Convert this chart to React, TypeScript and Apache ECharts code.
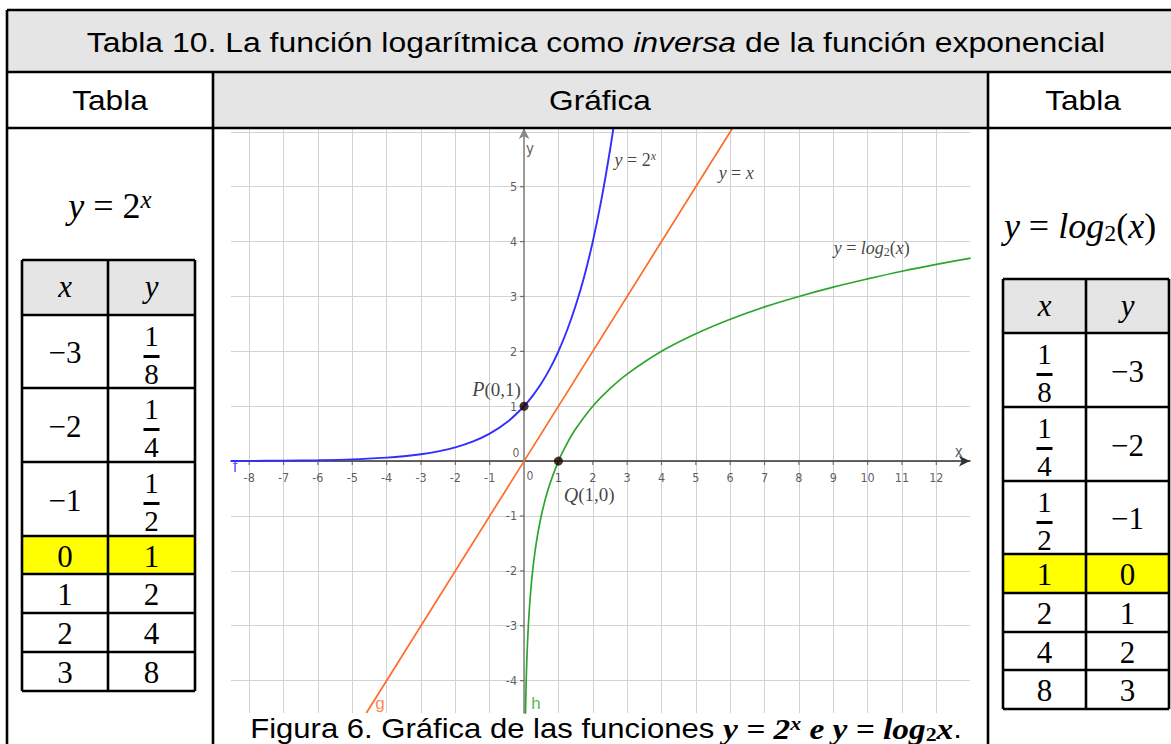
import React, { useEffect, useRef } from "react";
import * as echarts from "echarts";

// ---------------- data ----------------
const X_GRID = [-8, -7, -6, -5, -4, -3, -2, -1, 0, 1, 2, 3, 4, 5, 6, 7, 8, 9, 10, 11, 12];
const X_TICK_LABELS = [-8, -7, -6, -5, -4, -3, -2, -1, 1, 2, 3, 4, 5, 6, 7, 8, 9, 10, 11, 12];
const Y_GRID = [-4, -3, -2, -1, 0, 1, 2, 3, 4, 5, 6];
const Y_TICK_LABELS = [-4, -3, -2, -1, 1, 2, 3, 4, 5];
const X_MIN = -8.53;
const X_MAX = 12.98;
const Y_MIN = -4.59;
const Y_MAX = 6.07;

// y = 2^x (f)
const EXP_CURVE = [
  [-8.53, 0.003], [-8, 0.004], [-7, 0.008], [-6, 0.016], [-5, 0.031], [-4, 0.063],
  [-3.5, 0.088], [-3, 0.125], [-2.5, 0.177], [-2, 0.25], [-1.5, 0.354], [-1, 0.5],
  [-0.5, 0.707], [0, 1], [0.25, 1.19], [0.5, 1.414], [0.75, 1.68], [1, 2], [1.25, 2.38],
  [1.5, 2.83], [1.75, 3.36], [2, 4], [2.25, 4.76], [2.5, 5.66], [2.65, 6.28],
];
// y = x (g)
const IDENTITY_LINE = [[-4.59, -4.59], [6.07, 6.07]];
// y = log2(x) (h)
const LOG_CURVE = [
  [0.04, -4.64], [0.0625, -4], [0.088, -3.5], [0.125, -3], [0.177, -2.5], [0.25, -2],
  [0.354, -1.5], [0.5, -1], [0.707, -0.5], [1, 0], [1.25, 0.32], [1.5, 0.585], [2, 1],
  [2.5, 1.32], [3, 1.585], [4, 2], [5, 2.32], [6, 2.585], [7, 2.81], [8, 3], [9, 3.17],
  [10, 3.32], [11, 3.46], [12, 3.585], [13, 3.7],
];
const KEY_POINTS = [[0, 1], [1, 0]];

const TITLE_A = "Tabla 10. La función logarítmica como ";
const TITLE_B = "inversa";
const TITLE_C = " de la función exponencial";
const HEAD_LEFT = "Tabla";
const HEAD_MID = "Gráfica";
const HEAD_RIGHT = "Tabla";
const CAPTION = "Figura 6. Gráfica de las funciones ";

const EXP_TABLE_X = ["−3", "−2", "−1", "0", "1", "2", "3"];
const EXP_TABLE_Y = ["1/8", "1/4", "1/2", "1", "2", "4", "8"];
const LOG_TABLE_X = ["1/8", "1/4", "1/2", "1", "2", "4", "8"];
const LOG_TABLE_Y = ["−3", "−2", "−1", "0", "1", "2", "3"];
const HIGHLIGHT_ROW = 3;

// ---------------- styles ----------------
const SANS = "'Liberation Sans', Arial, sans-serif";
const SERIF = "'Liberation Serif', 'DejaVu Serif', serif";
const NARROW = "'Liberation Sans Narrow', 'DejaVu Sans Condensed', 'Liberation Sans', sans-serif";
const GRAY = "#e5e5e5";
const YELLOW = "#ffff00";
const BLUE = "#2f2fff";
const ORANGE = "#ff6a28";
const GREEN = "#2ca52c";
const BORDER = 2.6;
const CELL_FONT = 31;
const FRAC_FONT = 29;

function hLine(x1: number, x2: number, y: number, w = BORDER) {
  return { type: "line", z: 100, shape: { x1, y1: y, x2, y2: y }, style: { stroke: "#000", lineWidth: w } };
}
function vLine(x: number, y1: number, y2: number, w = BORDER) {
  return { type: "line", z: 100, shape: { x1: x, y1, x2: x, y2 }, style: { stroke: "#000", lineWidth: w } };
}
function txt(x: number, y: number, text: string, size: number, extra: any = {}) {
  return {
    type: "text",
    z: 101,
    x,
    y,
    scaleX: extra.scaleX || 1,
    style: {
      text,
      fontSize: size,
      fontFamily: extra.fontFamily || SERIF,
      fontStyle: extra.fontStyle || "normal",
      fontWeight: extra.fontWeight || "normal",
      fill: "#000",
      align: "center",
      verticalAlign: "middle",
      rich: extra.rich,
    },
  };
}

function cellValue(cx: number, top: number, bottom: number, v: string) {
  const out: any[] = [];
  if (v.indexOf("/") >= 0) {
    const [num, den] = v.split("/");
    out.push(txt(cx, top + 21, num, FRAC_FONT));
    out.push({ type: "rect", z: 101, shape: { x: cx - 8, y: top + 40, width: 16, height: 3 }, style: { fill: "#000" } });
    out.push(txt(cx, top + 59, den, FRAC_FONT));
  } else {
    out.push(txt(cx, (top + bottom) / 2 + 1, v, CELL_FONT));
  }
  return out;
}

function buildTable(left: number, mid: number, right: number, rows: number[], xs: string[], ys: string[]) {
  const els: any[] = [];
  els.push({ type: "rect", z: 50, shape: { x: left, y: rows[0], width: right - left, height: rows[1] - rows[0] }, style: { fill: GRAY } });
  const hy = rows[HIGHLIGHT_ROW + 1];
  els.push({ type: "rect", z: 50, shape: { x: left, y: hy, width: right - left, height: rows[HIGHLIGHT_ROW + 2] - hy }, style: { fill: YELLOW } });
  els.push(txt((left + mid) / 2, (rows[0] + rows[1]) / 2 - 1, "x", CELL_FONT, { fontStyle: "italic" }));
  els.push(txt((mid + right) / 2, (rows[0] + rows[1]) / 2 - 1, "y", CELL_FONT, { fontStyle: "italic" }));
  for (let i = 0; i < xs.length; i++) {
    const t = rows[i + 1];
    const b = rows[i + 2];
    els.push(...cellValue((left + mid) / 2, t, b, xs[i]));
    els.push(...cellValue((mid + right) / 2, t, b, ys[i]));
  }
  rows.forEach((y) => els.push(hLine(left, right, y)));
  [left, mid, right].forEach((x) => els.push(vLine(x, rows[0], rows[rows.length - 1])));
  return els;
}

const INK = "#111";
const mathRich = {
  i: { fontFamily: SERIF, fontStyle: "italic", fontSize: 18, color: INK, lineHeight: 20 },
  r: { fontFamily: SERIF, fontSize: 18, color: INK, lineHeight: 20 },
  pi: { fontFamily: SERIF, fontStyle: "italic", fontSize: 20, color: INK, lineHeight: 22 },
  pr: { fontFamily: SERIF, fontSize: 19, color: INK, lineHeight: 22 },
  sup: { fontFamily: SERIF, fontStyle: "italic", fontSize: 12, color: INK, verticalAlign: "top", lineHeight: 12 },
  sub: { fontFamily: SERIF, fontSize: 12, color: INK, verticalAlign: "bottom", lineHeight: 12 },
  fb: { fontFamily: SANS, fontSize: 17, color: BLUE },
  fg: { fontFamily: SANS, fontSize: 17, color: ORANGE },
  fh: { fontFamily: SANS, fontSize: 17, color: GREEN },
  ax: { fontFamily: NARROW, fontSize: 15, color: "#333" },
  z: { fontFamily: NARROW, fontSize: 12, color: "#333" },
};

export default function App() {
  const ref = useRef<HTMLDivElement>(null);
  useEffect(() => {
    if (!ref.current) return;
    const chart = echarts.init(ref.current, undefined, { renderer: "svg" });

    const graphics: any[] = [
      { type: "rect", z: 10, shape: { x: 7, y: 10, width: 1200, height: 62 }, style: { fill: GRAY } },
      { type: "rect", z: 10, shape: { x: 213, y: 72, width: 775, height: 56 }, style: { fill: GRAY } },
      hLine(7, 1200, 10),
      hLine(7, 1200, 72),
      hLine(7, 1200, 128),
      vLine(7, 10, 760),
      vLine(213, 72, 760),
      vLine(988, 72, 760),
    ];
    const title = txt(596, 42, `{a|${TITLE_A}}{b|${TITLE_B}}{a|${TITLE_C}}`, 28, { scaleX: 1.14, fontFamily: SANS });
    title.style.rich = {
      a: { fontFamily: SANS, fontSize: 28, color: "#000" },
      b: { fontFamily: SANS, fontSize: 28, fontStyle: "italic", color: "#000" },
    };
    graphics.push(title);
    graphics.push(txt(110, 100, HEAD_LEFT, 28, { fontFamily: SANS, scaleX: 1.13 }));
    graphics.push(txt(600, 100, HEAD_MID, 28, { fontFamily: SANS, scaleX: 1.13 }));
    graphics.push(txt(1083, 100, HEAD_RIGHT, 28, { fontFamily: SANS, scaleX: 1.13 }));
    // formulas
    const f1 = txt(110, 206, "{i|y}{r| = 2}{sup|x}", 35, {
      rich: {
        i: { fontFamily: SERIF, fontStyle: "italic", fontSize: 36, lineHeight: 38 },
        r: { fontFamily: SERIF, fontSize: 36, lineHeight: 38 },
        sup: { fontFamily: SERIF, fontStyle: "italic", fontSize: 25, verticalAlign: "top", lineHeight: 24 },
      },
    });
    graphics.push(f1);
    const f2 = txt(1080, 226, "{i|y}{r| = }{i|log}{sub|2}{r|(}{i|x}{r|)}", 35, {
      rich: {
        i: { fontFamily: SERIF, fontStyle: "italic", fontSize: 36, lineHeight: 38 },
        r: { fontFamily: SERIF, fontSize: 36, lineHeight: 38 },
        sub: { fontFamily: SERIF, fontSize: 24, verticalAlign: "bottom", lineHeight: 22 },
      },
    });
    graphics.push(f2);
    // tables
    graphics.push(...buildTable(22, 108, 195, [260, 315, 388, 462, 536, 574, 613, 652, 691], EXP_TABLE_X, EXP_TABLE_Y));
    graphics.push(...buildTable(1003, 1086, 1169, [279, 333, 407, 481, 554, 593, 632, 670, 709], LOG_TABLE_X, LOG_TABLE_Y));
    // caption
    const cap = txt(606, 729, `{a|${CAPTION}}{m|y = 2}{ms|x}{m| e y = log}{mb|2}{m|x}{a|.}`, 27, { scaleX: 1.15 });
    cap.style.rich = {
      a: { fontFamily: SANS, fontSize: 27, color: "#000", lineHeight: 30 },
      m: { fontFamily: SERIF, fontStyle: "italic", fontWeight: "bold", fontSize: 29, color: "#000", lineHeight: 30 },
      ms: { fontFamily: SERIF, fontStyle: "italic", fontWeight: "bold", fontSize: 19, color: "#000", verticalAlign: "top", lineHeight: 18 },
      mb: { fontFamily: SERIF, fontWeight: "bold", fontSize: 19, color: "#000", verticalAlign: "bottom", lineHeight: 18 },
    };
    graphics.push(cap);

    const annotations: any[] = [
      { value: [2.59, 5.49], label: { position: "right", formatter: "{i|y}{r| = 2}{sup|x}" } },
      { value: [5.62, 5.25], label: { position: "right", formatter: "{i|y}{r| = }{i|x}" } },
      { value: [8.97, 3.88], label: { position: "right", formatter: "{i|y}{r| = }{i|log}{sub|2}{r|(}{i|x}{r|)}" } },
      { value: [-0.05, 1.31], label: { position: "left", formatter: "{pi|P}{pr|(0,1)}" } },
      { value: [1.11, -0.61], label: { position: "right", formatter: "{pi|Q}{pr|(1,0)}" } },
      { value: [-8.41, -0.1], label: { position: "inside", formatter: "{fb|f}" } },
      { value: [-4.19, -4.41], label: { position: "inside", formatter: "{fg|g}" } },
      { value: [0.35, -4.41], label: { position: "inside", formatter: "{fh|h}" } },
      { value: [0, 0], label: { position: "inside", offset: [-8, -8], formatter: "{z|0}" } },
      { value: [0, 0], label: { position: "inside", offset: [6, 15], formatter: "{z|0}" } },
      { value: [12.65, 0.17], label: { position: "inside", formatter: "{ax|x}" } },
      { value: [0.17, 5.69], label: { position: "inside", formatter: "{ax|y}" } },
    ];

    const hidden = { color: "rgba(0,0,0,0)" };
    chart.setOption({
      animation: false,
      graphic: { elements: graphics },
      grid: { left: 231, top: 128, width: 739, height: 585, containLabel: false, outerBoundsMode: "none" },
      xAxis: {
        type: "value",
        min: X_MIN,
        max: X_MAX,
        axisLine: { show: true, onZero: true, lineStyle: { color: "#333", width: 1.6 }, symbol: ["none", "arrow"], symbolSize: [8, 11] },
        axisTick: { show: false, customValues: X_GRID },
        axisLabel: { show: false },
        splitLine: { show: true, lineStyle: { color: "#d2d2d2", width: 1 } },
      },
      yAxis: {
        type: "value",
        min: Y_MIN,
        max: Y_MAX,
        axisLine: { show: true, onZero: true, lineStyle: { color: "#888", width: 1.6 }, symbol: ["none", "arrow"], symbolSize: [8, 11] },
        axisTick: { show: false, customValues: Y_GRID },
        axisLabel: { show: false },
        splitLine: { show: true, lineStyle: { color: "#d2d2d2", width: 1 } },
      },
      series: [
        { name: "f", type: "line", data: EXP_CURVE, smooth: 0.35, showSymbol: false, lineStyle: { color: BLUE, width: 1.9 }, z: 3 },
        { name: "g", type: "line", data: IDENTITY_LINE, showSymbol: false, lineStyle: { color: ORANGE, width: 1.7 }, z: 3 },
        { name: "h", type: "line", data: LOG_CURVE, smooth: 0.35, showSymbol: false, lineStyle: { color: GREEN, width: 1.7 }, z: 3 },
        { name: "points", type: "scatter", data: KEY_POINTS, symbolSize: 9, itemStyle: { color: "#1c0202" }, z: 5 },
        {
          name: "xTicks",
          type: "scatter",
          data: X_TICK_LABELS.map((v) => [v, 0]),
          symbol: "rect",
          symbolSize: [1.2, 4],
          symbolOffset: [0, 2],
          itemStyle: { color: "#555" },
          z: 4,
          label: { show: true, position: "bottom", distance: 6, formatter: (p: any) => String(p.value[0]), color: "#333", fontFamily: NARROW, fontSize: 12.5 },
        },
        {
          name: "yTicks",
          type: "scatter",
          data: Y_TICK_LABELS.map((v) => [0, v]),
          symbol: "rect",
          symbolSize: [4, 1.2],
          symbolOffset: [-2, 0],
          itemStyle: { color: "#555" },
          z: 4,
          label: { show: true, position: "left", distance: 3, formatter: (p: any) => String(p.value[1]), color: "#333", fontFamily: NARROW, fontSize: 12.5 },
        },
        {
          name: "annotations",
          type: "scatter",
          data: annotations,
          symbolSize: 1,
          itemStyle: hidden,
          z: 6,
          label: { show: true, distance: 1, rich: mathRich, color: INK },
        },
      ],
    });
    return () => chart.dispose();
  }, []);
  return <div ref={ref} style={{ position: "fixed", left: 0, top: 0, width: 1171, height: 744, background: "#fff" }} />;
}
